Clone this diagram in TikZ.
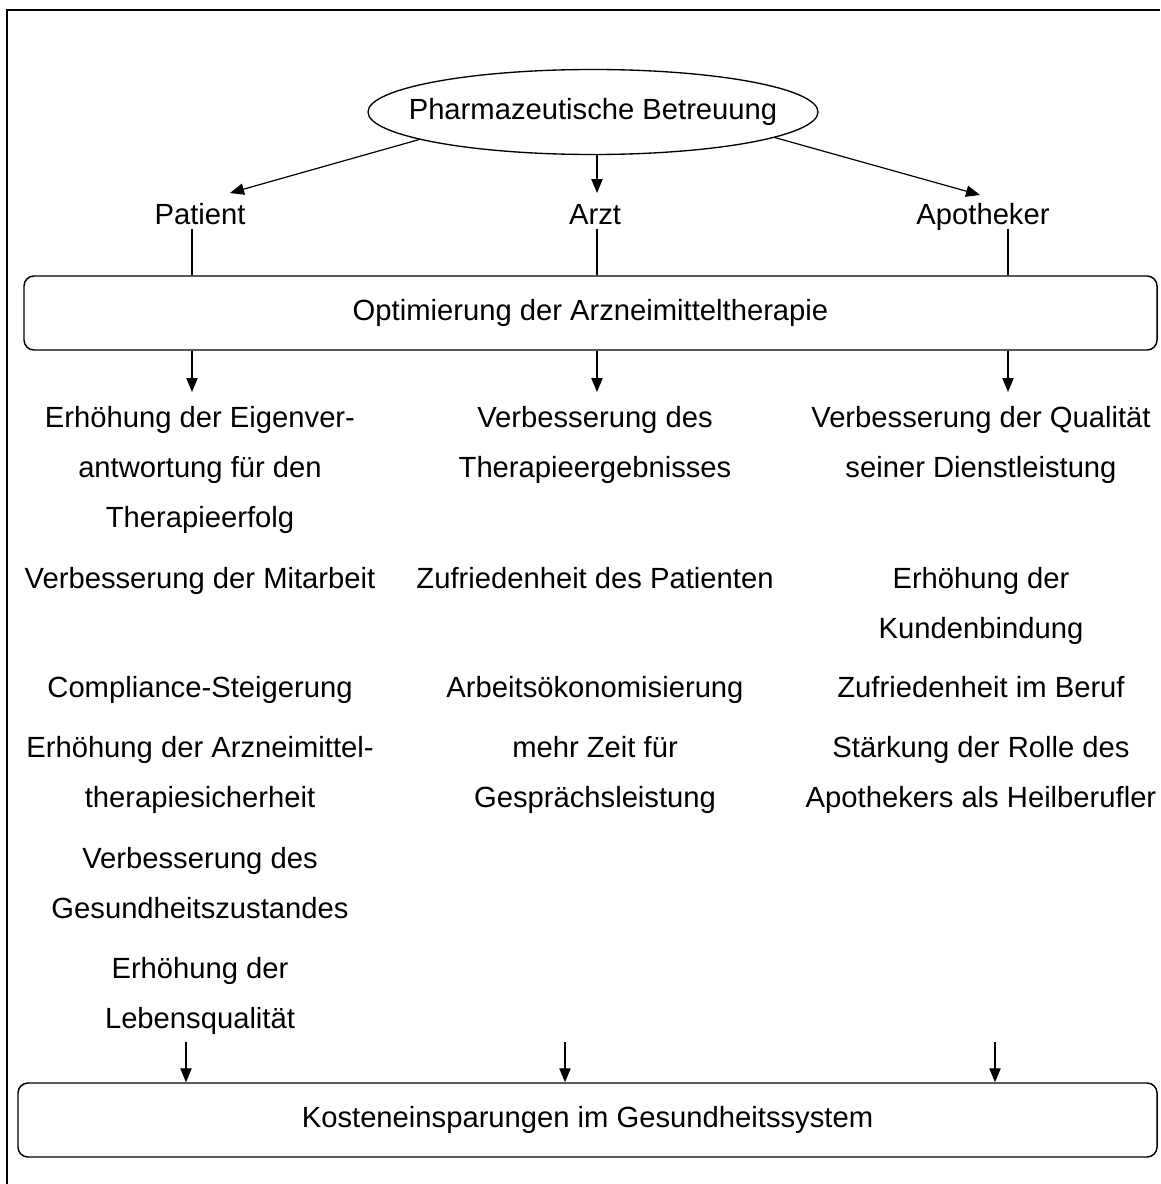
\documentclass[tikz,border=0pt]{standalone}
\usepackage{fontspec}
\setmainfont{Liberation Sans}
\usetikzlibrary{arrows.meta,shapes.geometric}

\begin{document}
\begin{tikzpicture}[
    x=0.75pt, y=-0.75pt,
    font=\fontsize{21.9}{37.5}\selectfont,
    txt/.style={align=center, inner sep=0pt},
    box/.style={draw, line width=1.1pt, rounded corners=7.5pt, minimum width=#1, minimum height=55.5pt, inner sep=0pt},
    arr/.style={-{Triangle[length=10.5pt,width=8.5pt]}, line width=0.9pt},
    link/.style={line width=0.9pt}
  ]
    \useasboundingbox (0,0) rectangle (1160,1184);
    \draw[line width=1.2pt] (7,1184) -- (7,10) -- (1160,10);

    \node[ellipse, draw, line width=1pt, minimum width=337.5pt, minimum height=63.75pt, inner sep=0pt] (pb) at (593,112) {\makebox[0pt]{Pharmazeutische Betreuung}};

    \node[txt, anchor=base] (patient) at (200,224) {Patient};
    \node[txt, anchor=base] (arzt) at (595,224) {Arzt};
    \node[txt, anchor=base] (apo) at (983,224) {Apotheker};
    \coordinate (tipP) at (230,193);
    \coordinate (tipA) at (597,193);
    \coordinate (tipH) at (980,195);
    \draw[arr] (pb.189) -- (tipP);
    \draw[arr] (pb.south -| tipA) -- (tipA);
    \draw[arr] (pb.352) -- (tipH);

    \node[box=849.75pt] (opt) at (590.5,313) {Optimierung der Arzneimitteltherapie};
    \draw[link] ([xshift=-6pt, yshift=-3pt]patient.south) -- ([xshift=-6pt]patient.south |- opt.north);
    \draw[link] ([xshift=1.5pt, yshift=-3.5pt]arzt.south) -- ([xshift=1.5pt]arzt.south |- opt.north);
    \draw[link] ([xshift=18.75pt, yshift=1pt]apo.south) -- ([xshift=18.75pt]apo.south |- opt.north);

    \coordinate (colL) at (192,392);
    \coordinate (colM) at (597,392);
    \coordinate (colR) at (1008,392);
    \draw[arr] (opt.south -| colL) -- (colL);
    \draw[arr] (opt.south -| colM) -- (colM);
    \draw[arr] (opt.south -| colR) -- (colR);

    % Patient
    \node[txt] (l1) at (200,470) {Erhöhung der Eigenver-\\antwortung für den\\Therapieerfolg};
    \node[txt] (l2) at (200,581) {Verbesserung der Mitarbeit};
    \node[txt] (l3) at (200,690) {Compliance-Steigerung};
    \node[txt] (l4) at (200,775) {Erhöhung der Arzneimittel-\\therapiesicherheit};
    \node[txt] (l5) at (200,883) {Verbesserung des\\Gesundheitszustandes};
    \node[txt] (l6) at (200,996) {Erhöhung der\\Lebensqualität};
    % Arzt
    \node[txt] (m1) at (595,445) {Verbesserung des\\Therapieergebnisses};
    \node[txt] (m2) at (595,578) {Zufriedenheit des Patienten};
    \node[txt] (m3) at (595,690) {Arbeitsökonomisierung};
    \node[txt] (m4) at (595,775) {mehr Zeit für\\Gesprächsleistung};
    % Apotheker
    \node[txt] (r1) at (981,445) {Verbesserung der Qualität\\seiner Dienstleistung};
    \node[txt] (r2) at (981,606) {Erhöhung der\\Kundenbindung};
    \node[txt] (r3) at (981,687) {Zufriedenheit im Beruf};
    \node[txt] (r4) at (981,775) {Stärkung der Rolle des\\Apothekers als Heilberufler};

    \node[box=854.25pt] (kosten) at (587.5,1120) {Kosteneinsparungen im Gesundheitssystem};
    \coordinate (botL) at (186,1042);
    \coordinate (botM) at (565,1042);
    \coordinate (botR) at (995,1042);
    \draw[arr] (botL) -- (botL |- kosten.north);
    \draw[arr] (botM) -- (botM |- kosten.north);
    \draw[arr] (botR) -- (botR |- kosten.north);
\end{tikzpicture}
\end{document}
